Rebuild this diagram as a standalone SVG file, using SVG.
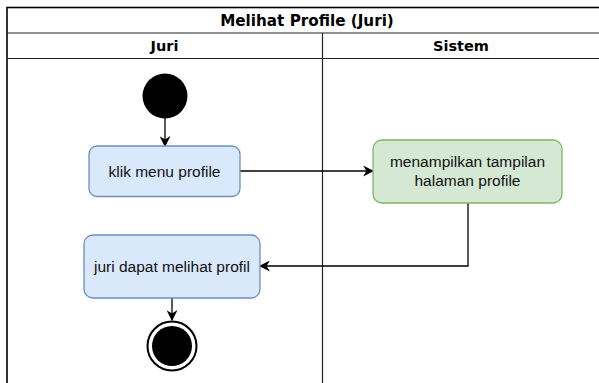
<svg xmlns="http://www.w3.org/2000/svg" width="599" height="383" viewBox="0 0 599 383">
  <style>
    .frame { fill: #ffffff; stroke: #000000; stroke-width: 1.6; }
    .rule { stroke: #222222; stroke-width: 1.2; fill: none; }
    .hdr { font-family: "DejaVu Sans", Verdana, sans-serif; font-weight: bold; font-size: 14.5px; fill: #000000; text-anchor: middle; }
    .title { font-size: 15.2px; }
    .lbl { font-family: "Liberation Sans", Arial, sans-serif; font-size: 15.5px; fill: #111111; text-anchor: middle; }
    .blue { fill: #dae8fc; stroke: #6c8ebf; stroke-width: 1.3; }
    .green { fill: #d5e8d4; stroke: #82b366; stroke-width: 1.3; }
    .edge { stroke: #000000; stroke-width: 1.3; fill: none; marker-end: url(#arrow); }
  </style>
  <defs>
    <marker id="arrow" viewBox="0 0 10 10" refX="9" refY="5" markerWidth="11" markerHeight="11" markerUnits="userSpaceOnUse" orient="auto">
      <path d="M0,0 L10,5 L0,10 L3,5 Z" fill="#000000"/>
    </marker>
  </defs>

  <!-- swimlane frame -->
  <g id="pool">
    <rect class="frame" x="7" y="7.5" width="600" height="385"/>
    <line class="rule" x1="7" y1="33" x2="599" y2="33"/>
    <line class="rule" x1="7" y1="58.5" x2="599" y2="58.5"/>
    <line class="rule" x1="322.5" y1="33" x2="322.5" y2="383"/>
    <text class="hdr title" x="307" y="25.5">Melihat Profile (Juri)</text>
    <text class="hdr" x="164.5" y="51">Juri</text>
    <text class="hdr" x="461" y="51">Sistem</text>
  </g>

  <!-- connectors -->
  <g id="edges">
    <line class="edge" x1="165" y1="118" x2="165" y2="146"/>
    <line class="edge" x1="240" y1="171" x2="373" y2="171"/>
    <polyline class="edge" points="468,203 468,266 260,266"/>
    <line class="edge" x1="172" y1="298" x2="172" y2="320"/>
  </g>

  <g id="start">
    <circle cx="165" cy="96" r="22.5" fill="#000000"/>
  </g>

  <g id="klik-menu">
    <rect class="blue" x="89" y="146" width="151" height="50.5" rx="8"/>
    <text class="lbl" x="164.5" y="176.5">klik menu profile</text>
  </g>

  <g id="tampil-profile">
    <rect class="green" x="373" y="140" width="189" height="63" rx="9"/>
    <text class="lbl" x="467.5" y="167">menampilkan tampilan</text>
    <text class="lbl" x="467.5" y="186">halaman profile</text>
  </g>

  <g id="lihat-profil">
    <rect class="blue" x="84" y="235" width="176" height="63" rx="9"/>
    <text class="lbl" x="172" y="272">juri dapat melihat profil</text>
  </g>

  <g id="end">
    <circle cx="172" cy="346" r="24.5" fill="#ffffff" stroke="#000000" stroke-width="2"/>
    <circle cx="172" cy="346" r="20" fill="#000000"/>
  </g>
</svg>
